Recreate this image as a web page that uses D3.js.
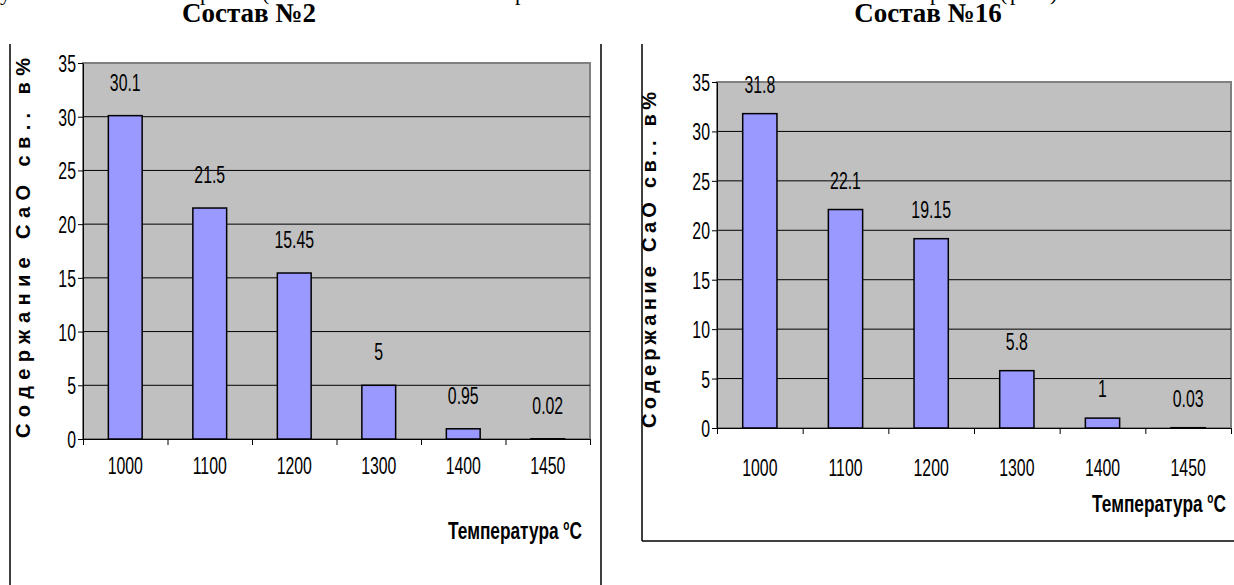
<!DOCTYPE html>
<html lang="ru">
<head>
<meta charset="UTF-8">
<title>Состав №2 / Состав №16</title>
<script src="https://cdn.jsdelivr.net/npm/d3@7/dist/d3.min.js"></script>
<style>
	body { margin: 0; background: #fff; }
	svg text { font-family: "Liberation Sans", Arial, sans-serif; fill: #000; }
</style>
</head>
<body>
<svg id="chart" width="1234" height="585"></svg>
<script>

	// data
	var temps = ["1000", "1100", "1200", "1300", "1400", "1450"];
	var sostav2 = [30.1, 21.5, 15.45, 5, 0.95, 0.02];
	var sostav16 = [31.8, 22.1, 19.15, 5.8, 1, 0.03];
	var yTicks = [0, 5, 10, 15, 20, 25, 30, 35];
	var titles = ["Состав №2", "Состав №16"];
	var yTitle = "Содержание СаО св.. в%";
	var xTitle = "Температура ";

	var svg = d3.select("#chart");

	// narrow text: the font is squeezed horizontally (Arial Narrow look)
	function ntext(parent, x, y, anchor, str, size, sx) {
		return parent.append("text")
			.attr("transform", "translate(" + x + "," + y + ") scale(" + (sx || 0.66) + ",1)")
			.attr("text-anchor", anchor)
			.style("font-size", (size || 24) + "px")
			.text(str);
	}

	// cut off line of the page text above the charts
	var topGlyphs = [["у", 0], ["р", 200], ["(", 262], ["р", 515], ["р", 930], ["(", 1000], ["р", 1010], [")", 1050]];
	svg.selectAll(".cut").data(topGlyphs).enter().append("text")
		.attr("class", "cut")
		.attr("x", function(d){ return d[1]; })
		.attr("y", 0)
		.style("font-family", "'Liberation Serif', serif")
		.style("font-size", "22px")
		.text(function(d){ return d[0]; });

	// frames
	function line(x1, y1, x2, y2) {
		svg.append("line").attr("x1", x1).attr("y1", y1).attr("x2", x2).attr("y2", y2)
			.attr("stroke", "#000").attr("stroke-width", 1.5);
	}
	line(10, 44, 10, 585);
	line(601, 44, 601, 585);
	line(642, 44, 642, 541);
	line(642, 541, 1234, 541);

	function drawChart(opt) {
		var g = svg.append("g");

		var xb = d3.scaleBand().domain(temps).range([opt.left, opt.right]);
		var x = d3.scaleBand().domain(temps).range([opt.left, opt.right])
			.paddingInner(0.6).paddingOuter(0.3);
		var xl = d3.scaleLinear().domain([0, temps.length]).range([opt.left, opt.right]);
		var y = d3.scaleLinear().domain([0, 35]).range([opt.bottom, opt.top]);

		// title
		svg.append("text")
			.attr("x", opt.titleX).attr("y", 22)
			.attr("text-anchor", "middle")
			.style("font-family", "'Liberation Serif', 'Times New Roman', serif")
			.style("font-weight", "bold")
			.style("font-size", "27px")
			.text(opt.title);

		// plot area
		g.append("rect")
			.attr("x", opt.left).attr("y", opt.top)
			.attr("width", opt.right - opt.left).attr("height", opt.bottom - opt.top)
			.attr("fill", "#c0c0c0").attr("stroke", "#808080").attr("stroke-width", 2);

		// gridlines
		g.selectAll(".grid").data(yTicks.slice(1, -1)).enter().append("line")
			.attr("x1", opt.left).attr("x2", opt.right)
			.attr("y1", function(d){ return y(d); }).attr("y2", function(d){ return y(d); })
			.attr("stroke", "#000").attr("stroke-width", 1);

		// bars
		g.selectAll(".bar").data(opt.values).enter().append("rect")
			.attr("x", function(d, i){ return x(temps[i]); })
			.attr("y", function(d){ return y(d); })
			.attr("width", x.bandwidth())
			.attr("height", function(d){ return y(0) - y(d); })
			.attr("fill", "#9999ff").attr("stroke", "#000").attr("stroke-width", 1.5);

		// value labels
		opt.values.forEach(function(d, i){
			ntext(g, x(temps[i]) + x.bandwidth() / 2, y(d) - opt.labOff, "middle", d);
		});

		// y axis
		var ya = g.append("g")
			.attr("transform", "translate(" + opt.left + ",0)")
			.call(d3.axisLeft(y).tickValues(yTicks).tickSize(5).tickSizeOuter(0).tickFormat(""));
		ya.selectAll("line,path").attr("stroke", "#000");
		yTicks.forEach(function(t){
			ntext(g, opt.left - 7, y(t) + 9, "end", t);
		});

		// x axis, ticks between categories
		var xa = g.append("g")
			.attr("transform", "translate(0," + opt.bottom + ")")
			.call(d3.axisBottom(xl).tickValues(d3.range(temps.length + 1)).tickSize(6).tickSizeOuter(0).tickFormat(""));
		xa.selectAll("line,path").attr("stroke", "#000");

		temps.forEach(function(d){
			ntext(g, xb(d) + xb.bandwidth() / 2, opt.bottom + opt.xLabDy, "middle", d);
		});

		// x title
		var xt = ntext(g, opt.xTitleX, opt.xTitleY, "end", xTitle, 24, 0.72).style("font-weight", "bold");
		xt.append("tspan").attr("dy", -9).style("font-size", "14px").text("o");
		xt.append("tspan").attr("dy", 9).text("С");

		// y title
		g.append("text")
			.attr("transform", "translate(" + opt.yTitleX + "," + opt.yTitleY0 + ") rotate(-90)")
			.attr("textLength", opt.yTitleY0 - opt.yTitleY1)
			.attr("lengthAdjust", "spacing")
			.style("font-weight", "bold")
			.style("font-size", "20px")
			.text(yTitle);
	}

	drawChart({
		values: sostav2, title: titles[0], titleX: 249,
		left: 83, right: 590, top: 63, bottom: 439,
		labOff: 25, xLabDy: 35, xTitleX: 582, xTitleY: 539,
		yTitleX: 30, yTitleY0: 438, yTitleY1: 58
	});

	drawChart({
		values: sostav16, title: titles[1], titleX: 928,
		left: 717, right: 1231, top: 82, bottom: 428,
		labOff: 21, xLabDy: 48, xTitleX: 1226, xTitleY: 512,
		yTitleX: 656, yTitleY0: 428, yTitleY1: 92
	});

</script>
</body>
</html>
